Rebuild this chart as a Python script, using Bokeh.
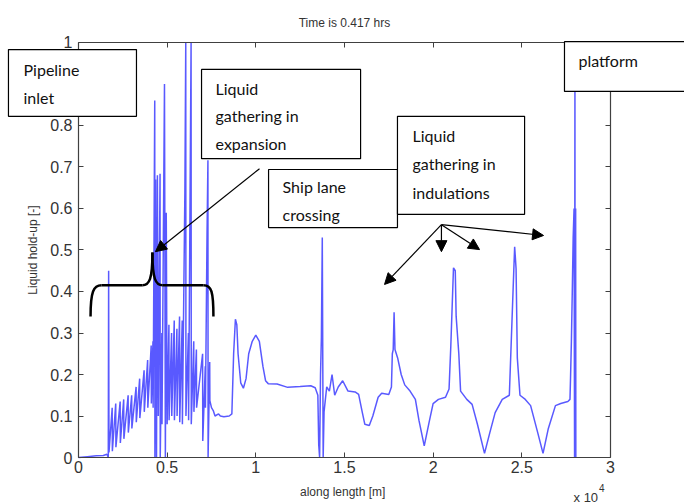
import math
from bokeh.plotting import figure
from bokeh.models import (Range1d, LinearAxis, FixedTicker, Label, BoxAnnotation,
                          Arrow, NormalHead)
from bokeh.embed import file_html
from bokeh.resources import INLINE

# ---------------- data (x in units of 1e4 m) ----------------
along_length = [
    0.00, 0.05, 0.10, 0.14, 0.16,
    0.168, 0.170, 0.172,
    0.190, 0.191, 0.210, 0.211, 0.235, 0.236, 0.255, 0.256, 0.280, 0.281,
    0.300, 0.301, 0.325, 0.326, 0.345, 0.346, 0.370, 0.371, 0.390, 0.391,
    0.410, 0.411, 0.420, 0.421,
    0.430, 0.431, 0.435, 0.440, 0.445, 0.450, 0.460, 0.461, 0.470, 0.471,
    0.485, 0.490, 0.495, 0.500, 0.510, 0.511, 0.525, 0.526, 0.540, 0.541,
    0.555, 0.556, 0.570, 0.571, 0.585, 0.586, 0.600, 0.605, 0.606, 0.620, 0.621,
    0.635, 0.636, 0.650, 0.651, 0.665, 0.666, 0.700, 0.701, 0.715, 0.716,
    0.725, 0.730, 0.731, 0.740, 0.741,
    0.750, 0.760, 0.770, 0.790, 0.800, 0.820, 0.850, 0.865, 0.875, 0.885,
    0.893, 0.900, 0.915, 0.930, 0.945, 0.960, 0.980, 1.000, 1.020, 1.040,
    1.055, 1.070, 1.120, 1.180, 1.250, 1.310, 1.335, 1.350, 1.355, 1.360,
    1.365, 1.370, 1.375, 1.380, 1.385, 1.400, 1.415, 1.430, 1.445, 1.465,
    1.490, 1.520, 1.560, 1.580, 1.600, 1.615, 1.640, 1.660, 1.690, 1.710,
    1.750, 1.765, 1.770, 1.775, 1.780, 1.785, 1.800, 1.820, 1.840, 1.870,
    1.900, 1.920, 1.950, 1.980, 2.000, 2.030, 2.070, 2.090, 2.100, 2.115,
    2.125, 2.130, 2.145, 2.155, 2.190, 2.220, 2.250, 2.290, 2.320, 2.350,
    2.390, 2.430, 2.445, 2.455, 2.460, 2.468, 2.475, 2.490, 2.520, 2.550,
    2.590, 2.620, 2.650, 2.690, 2.720, 2.760, 2.772, 2.775, 2.780, 2.785,
    2.790, 2.795, 2.798, 2.800, 2.801, 2.802, 2.803, 2.804, 2.805,
]
liquid_holdup = [
    0.000, 0.002, 0.004, 0.005, 0.008,
    0.000, 0.450, 0.012,
    0.120, 0.015, 0.130, 0.025, 0.135, 0.035, 0.140, 0.045, 0.150, 0.060,
    0.150, 0.070, 0.170, 0.085, 0.190, 0.095, 0.210, 0.110, 0.235, 0.120,
    0.270, 0.130, 0.280, 0.120,
    0.860, 0.000, 0.670, 0.000, 0.680, 0.100, 0.684, 0.000, 0.300, 0.080,
    0.900, 0.000, 0.590, 0.080, 0.320, 0.090, 0.300, 0.100, 0.330, 0.090,
    0.310, 0.100, 0.340, 0.085, 0.330, 0.080, 0.640, 1.000, 0.100, 0.300, 0.090,
    1.000, 0.080, 0.280, 0.110, 0.260, 0.120, 0.250, 0.040, 0.220, 0.120,
    0.540, 0.716, 0.000, 0.230, 0.137,
    0.120, 0.113, 0.100, 0.105, 0.100, 0.098, 0.100, 0.105, 0.250, 0.333,
    0.320, 0.250, 0.180, 0.167, 0.190, 0.250, 0.280, 0.295, 0.280, 0.220,
    0.185, 0.178, 0.177, 0.169, 0.171, 0.173, 0.168, 0.150, 0.030, 0.000,
    0.200, 0.290, 0.530, 0.000, 0.110, 0.170, 0.160, 0.200, 0.150, 0.170,
    0.185, 0.160, 0.158, 0.152, 0.110, 0.080, 0.077, 0.100, 0.145, 0.155,
    0.152, 0.170, 0.250, 0.260, 0.350, 0.260, 0.240, 0.200, 0.175, 0.160,
    0.140, 0.090, 0.028, 0.090, 0.130, 0.140, 0.145, 0.165, 0.270, 0.457,
    0.450, 0.340, 0.250, 0.160, 0.140, 0.128, 0.080, 0.010, 0.060, 0.108,
    0.140, 0.150, 0.330, 0.450, 0.508, 0.455, 0.240, 0.150, 0.140, 0.125,
    0.060, 0.010, 0.070, 0.125, 0.130, 0.135, 0.140, 0.190, 0.280, 0.400,
    0.530, 0.600, 0.000, 0.950, 0.000, 0.600, 0.000, 0.600, 0.000,
]

x_ticks = [0, 0.5, 1, 1.5, 2, 2.5, 3]
x_tick_labels = ["0", "0.5", "1", "1.5", "2", "2.5", "3"]
y_ticks = [0, 0.1, 0.2, 0.3, 0.4, 0.5, 0.6, 0.7, 0.8, 0.9, 1.0]
y_tick_labels = ["0", "0.1", "0.2", "0.3", "0.4", "0.5", "0.6", "0.7", "0.8", "0.9", "1"]

title_text = "Time is 0.417 hrs"
x_label = "along length [m]"
y_label = "Liquid hold-up [-]"

# ---------------- figure ----------------
# the frame covers the whole page so that the annotation boxes can overlap the axes;
# the axes are drawn at fixed data locations and bounded to the data domain
AX = "#404040"
TICK_FONT = "Liberation Sans"
X0, X1 = 0.0, 3.0
Y0, Y1 = 0.0, 1.0

p = figure(width=684, height=504, output_backend="svg", toolbar_location=None,
           x_range=Range1d(-0.4399, 3.4179), y_range=Range1d(-0.11325, 1.1012),
           min_border=0)
p.grid.visible = False
p.outline_line_color = None
p.background_fill_color = "white"
p.border_fill_color = "white"

p.line(along_length, liquid_holdup, line_color="#0000ff", line_width=1.5, line_alpha=0.65)

def style_axis(ax, ticks, labels, loc, bounds, show_labels=True):
    ax.ticker = FixedTicker(ticks=ticks)
    if show_labels:
        ax.major_label_overrides = {t: l for t, l in zip(ticks, labels)}
    else:
        ax.major_label_overrides = {t: "" for t in ticks}
    ax.fixed_location = loc
    ax.bounds = bounds
    ax.axis_line_color = AX
    ax.axis_line_width = 1.2
    ax.major_tick_line_color = AX
    ax.major_tick_in = 5
    ax.major_tick_out = 0
    ax.minor_tick_line_color = None
    ax.major_label_text_font = TICK_FONT
    ax.major_label_text_font_size = "16px"
    ax.major_label_text_color = "#333333"

xa = p.xaxis[0]
ya = p.yaxis[0]
style_axis(xa, x_ticks, x_tick_labels, Y0, (X0, X1))
style_axis(ya, y_ticks, y_tick_labels, X0, (Y0, Y1))
xa.major_label_standoff = 3
ya.major_label_standoff = 6

top_ax = LinearAxis()
right_ax = LinearAxis()
style_axis(top_ax, x_ticks, x_tick_labels, Y1, (X0, X1), show_labels=False)
style_axis(right_ax, y_ticks, y_tick_labels, X1, (Y0, Y1), show_labels=False)
p.add_layout(top_ax, "above")
p.add_layout(right_ax, "right")

def text(x, y, t, size, align="center", angle=0.0, font=TICK_FONT, color="#333333"):
    p.add_layout(Label(x=x, y=y, text=t, text_align=align, text_baseline="middle",
                       angle=angle, text_font=font, text_font_size=size,
                       text_color=color))

text(1.5, 1.0458, title_text, "12px")
text(1.49, -0.082, x_label, "12px")
text(-0.254, 0.5, y_label, "12px", angle=math.pi / 2)
text(2.792, -0.096, "x 10", "13px", align="left")
text(2.935, -0.0735, "4", "10px", align="left")

# brace
p.bezier(x0=[0.068, 0.36, 0.417, 0.705], y0=[0.34, 0.415, 0.494, 0.415],
         x1=[0.13, 0.417, 0.475, 0.761], y1=[0.415, 0.494, 0.415, 0.34],
         cx0=[0.068, 0.40, 0.417, 0.75], cy0=[0.40, 0.415, 0.43, 0.415],
         cx1=[0.085, 0.417, 0.435, 0.761], cy1=[0.415, 0.43, 0.415, 0.40],
         line_color="black", line_width=2.5)
p.segment(x0=[0.13, 0.475], y0=[0.415, 0.415], x1=[0.36, 0.705], y1=[0.415, 0.415],
          line_color="black", line_width=2.5)

# arrows
def arrow(xs, ys, xe, ye):
    p.add_layout(Arrow(x_start=xs, y_start=ys, x_end=xe, y_end=ye,
                       line_color="black", line_width=1.2,
                       end=NormalHead(size=11, fill_color="black", line_color="black")))

arrow(1.021, 0.696, 0.434, 0.496)
arrow(2.047, 0.561, 1.726, 0.417)
arrow(2.047, 0.561, 2.047, 0.496)
arrow(2.047, 0.561, 2.262, 0.501)
arrow(2.047, 0.561, 2.623, 0.535)

# text boxes
BOX_FONT = "Lato"
def box(left, right, bottom, top, lines, tx, tys):
    p.add_layout(BoxAnnotation(left=left, right=right, bottom=bottom, top=top,
                               fill_color="white", fill_alpha=1.0,
                               line_color="black", line_width=1.2, line_alpha=1.0))
    for t, ty in zip(lines, tys):
        text(tx, ty, t, "16px", align="left", font=BOX_FONT, color="#111111")

box(-0.395, 0.327, 0.822, 0.983, ["Pipeline", "inlet"], -0.310, [0.935, 0.867])
box(0.694, 1.591, 0.720, 0.935, ["Liquid", "gathering in", "expansion"], 0.773,
    [0.889, 0.824, 0.757])
box(1.072, 1.799, 0.554, 0.694, ["Ship lane", "crossing"], 1.151, [0.653, 0.586])
box(1.799, 2.516, 0.586, 0.822, ["Liquid", "gathering in", "indulations"], 1.884,
    [0.776, 0.708, 0.639])
box(2.741, 3.45, 0.882, 1.002, ["platform"], 2.820, [0.957])

open("out.html", "w").write(file_html(p, INLINE))
